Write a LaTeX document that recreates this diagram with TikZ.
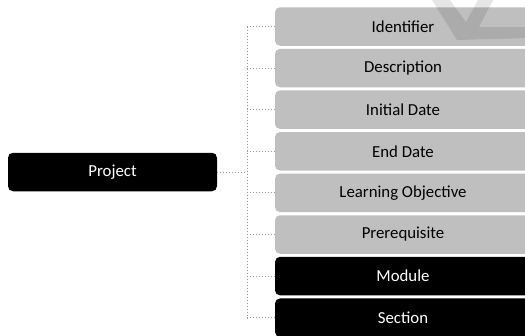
\documentclass[tikz,border=0pt]{standalone}
\usepackage{fontspec}
\setmainfont{Carlito}
\usetikzlibrary{positioning}

\begin{document}
\begin{tikzpicture}[x=1pt, y=1pt, node distance=41.6pt,
	field/.style={rectangle, rounded corners=5pt, fill=gray!50, text=black,
		minimum width=256pt, minimum height=38.5pt, inner sep=0pt, font=\fontsize{16.8}{19}\selectfont},
	dark/.style={field, fill=black, text=white},
	conn/.style={draw=gray!80, line width=0.9pt, dash pattern=on 0.9pt off 2.1pt}]
	\useasboundingbox[fill=white] (0,0) rectangle (525,-335);
	\clip (0,0) rectangle (525,-335);

	\node[dark, minimum width=209pt] (sp)  at (112.5,-172)  {Project};
	\node[field]   (sf1) at (403,-26.5)     {Identifier};
	\node[field]   (sf2) [below of=sf1]  {Description};
	\node[field]   (sf3) [below of=sf2]  {Initial Date};
	\node[field]   (sf4) [below of=sf3]  {End Date};
	\node[field]   (sf5) [below of=sf4]  {Learning Objective};
	\node[field]   (sf6) [below of=sf5]  {Prerequisite};
	\node[dark]    (sf7) [below of=sf6]  {Module};
	\node[dark]    (sf8) [below of=sf7]  {Section};

	% faint watermark over the top right
	\fill[black, opacity=0.1]
		(432,0) -- (450,0) -- (466,-22) -- (478,0) -- (493,0) -- (479,-27)
		-- (530,-27) -- (530,-38) -- (457,-40) -- cycle;

	\coordinate (jn) at (247,-172);
	\path[conn]
			(sp.east) edge (jn)
			(jn |- sf1) edge (jn |- sf8)
			(jn |- sf1) edge (sf1.west)
			(jn |- sf2) edge (sf2.west)
			(jn |- sf3) edge (sf3.west)
			(jn |- sf4) edge (sf4.west)
			(jn |- sf5) edge (sf5.west)
			(jn |- sf6) edge (sf6.west)
			(jn |- sf7) edge (sf7.west)
			(jn |- sf8) edge (sf8.west);
\end{tikzpicture}
\end{document}
